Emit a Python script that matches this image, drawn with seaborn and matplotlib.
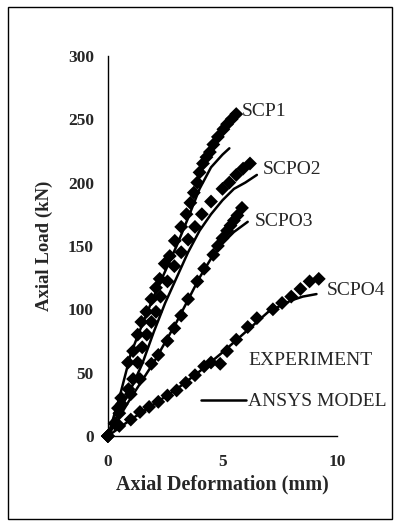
import matplotlib
matplotlib.use("Agg")
import matplotlib.pyplot as plt
from matplotlib.lines import Line2D
from matplotlib.patches import Rectangle
import seaborn as sns
import pandas as pd

sns.set_theme(style="white")
plt.rcParams['font.family'] = ['Liberation Serif', 'DejaVu Serif']

# Experiment data (deformation mm, load kN)
scp1_exp_x = [0, 0.3, 0.44, 0.58, 0.88, 1.1, 1.3, 1.46, 1.68, 1.9, 2.1, 2.26, 2.48, 2.7, 2.92, 3.2, 3.43, 3.6, 3.75, 3.9, 4.0, 4.15, 4.3, 4.45, 4.6, 4.8, 5.04, 5.2, 5.4, 5.6]
scp1_exp_y = [0, 10, 22, 30, 58, 67, 80, 90, 98, 108, 117, 124, 136, 142, 154, 165, 175, 184, 192, 200, 208, 215, 220, 224, 230, 236, 242, 246, 250, 254]
scpo2_exp_x = [0, 0.3, 0.6, 0.9, 1.1, 1.3, 1.5, 1.7, 1.9, 2.1, 2.3, 2.6, 2.9, 3.2, 3.5, 3.8, 4.1, 4.5, 5.0, 5.3, 5.6, 5.9, 6.2]
scpo2_exp_y = [0, 10, 25, 37, 45, 58, 70, 80, 90, 98, 110, 122, 134, 145, 155, 165, 175, 185, 195, 200, 206, 211, 215]
scpo3_exp_x = [0, 0.5, 1.0, 1.4, 1.9, 2.2, 2.6, 2.9, 3.2, 3.5, 3.9, 4.2, 4.6, 4.8, 5.0, 5.2, 5.35, 5.5, 5.65, 5.85]
scpo3_exp_y = [0, 18, 33, 45, 57, 64, 75, 85, 95, 108, 122, 132, 143, 150, 156, 162, 166, 170, 174, 180]
scpo4_exp_x = [0, 0.5, 1.0, 1.4, 1.8, 2.2, 2.6, 3.0, 3.4, 3.8, 4.2, 4.5, 4.9, 5.2, 5.6, 6.1, 6.5, 7.2, 7.6, 8.0, 8.4, 8.8, 9.2]
scpo4_exp_y = [0, 8, 13, 19, 23, 27, 32, 36, 42, 48, 55, 58, 57, 67, 76, 86, 93, 100, 105, 110, 116, 122, 124]

# ANSYS model data
scp1_fem_x = [0, 0.5, 1.0, 1.5, 2.0, 2.5, 3.0, 3.5, 4.0, 4.5, 5.0, 5.3]
scp1_fem_y = [0, 30, 65, 88, 110, 130, 150, 172, 195, 212, 222, 227]
scpo2_fem_x = [0, 0.5, 1.0, 1.5, 2.0, 2.5, 3.0, 3.5, 4.0, 4.5, 5.0, 5.5, 6.0, 6.5]
scpo2_fem_y = [0, 20, 37, 57, 82, 105, 125, 145, 162, 175, 186, 195, 200, 206]
scpo3_fem_x = [0, 1.0, 2.0, 3.0, 4.0, 4.5, 5.0, 5.5, 6.1]
scpo3_fem_y = [0, 30, 58, 90, 125, 140, 152, 161, 169]
scpo4_fem_x = [0, 1.0, 2.0, 3.0, 4.0, 5.0, 6.0, 7.0, 8.0, 8.5, 9.1]
scpo4_fem_y = [0, 13, 25, 37, 51, 66, 82, 98, 107, 110, 112]

specimens = ["SCP1", "SCPO2", "SCPO3", "SCPO4"]
label_x = [5.85, 6.77, 6.42, 9.56]
label_y = [256, 210, 169, 115]

exp_sets = [(scp1_exp_x, scp1_exp_y), (scpo2_exp_x, scpo2_exp_y),
            (scpo3_exp_x, scpo3_exp_y), (scpo4_exp_x, scpo4_exp_y)]
fem_sets = [(scp1_fem_x, scp1_fem_y), (scpo2_fem_x, scpo2_fem_y),
            (scpo3_fem_x, scpo3_fem_y), (scpo4_fem_x, scpo4_fem_y)]

exp_df = pd.concat([pd.DataFrame({"x": x, "y": y, "spec": s}) for (x, y), s in zip(exp_sets, specimens)])
fem_df = pd.concat([pd.DataFrame({"x": x, "y": y, "spec": s}) for (x, y), s in zip(fem_sets, specimens)])

fig = plt.figure(figsize=(3.98, 5.26), dpi=100)
ax = fig.add_axes([0.271, 0.171, 0.576, 0.723])

sns.scatterplot(data=exp_df, x="x", y="y", hue="spec", palette=["black"] * 4,
                marker="D", s=50, edgecolor="black", linewidth=0, legend=False,
                ax=ax, clip_on=False, zorder=3)
sns.lineplot(data=fem_df, x="x", y="y", units="spec", estimator=None, sort=False,
             color="black", linewidth=1.8, legend=False, ax=ax, zorder=4)

for name, lx, ly in zip(specimens, label_x, label_y):
    ax.text(lx, ly, name, fontsize=14, va="center", ha="left", clip_on=False)

ax.set_xlim(0, 10)
ax.set_ylim(0, 300)
ax.set_xticks([0, 5, 10])
ax.set_yticks([0, 50, 100, 150, 200, 250, 300])
for s in ["top", "right"]:
    ax.spines[s].set_visible(False)
for s in ["left", "bottom"]:
    ax.spines[s].set_color("black")
    ax.spines[s].set_linewidth(1.0)
ax.tick_params(direction="out", length=5, width=1, color="black", labelsize=12.5, pad=5)
ax.tick_params(axis="x", pad=8)
for lab in ax.get_xticklabels() + ax.get_yticklabels():
    lab.set_fontweight("bold")
ax.set_xlabel("Axial Deformation (mm)", fontsize=14.5, fontweight="bold", labelpad=3)
ax.set_ylabel("Axial Load (kN)", fontsize=13.5, fontweight="bold", labelpad=11)

handles = [Line2D([], [], color="none", marker="D", markerfacecolor="none", markeredgecolor="none"),
           Line2D([], [], color="black", linewidth=1.8)]
ax.legend(handles, ["EXPERIMENT", "ANSYS MODEL"], loc="upper left",
          bbox_to_anchor=(0.365, 0.247), frameon=False, fontsize=14, borderpad=0,
          handlelength=2.3, handletextpad=0.1, labelspacing=1.2)

fig.patches.append(Rectangle((0.02, 0.013), 0.965, 0.974, transform=fig.transFigure,
                             fill=False, edgecolor="black", linewidth=1.0))

fig.savefig("out.png", dpi=100)
